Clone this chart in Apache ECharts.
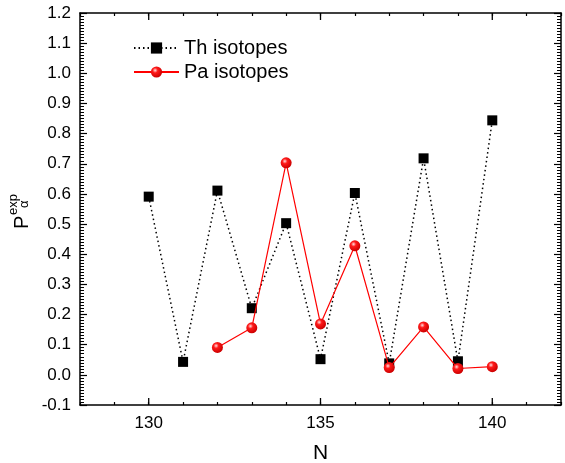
<!DOCTYPE html>
<html>
<head>
<meta charset="utf-8">
<script src="https://cdn.jsdelivr.net/npm/echarts@6/dist/echarts.min.js"></script>
<style>
html,body{margin:0;padding:0;background:#fff;}
#c{width:565px;height:463px;}
</style>
</head>
<body>
<div id="c"></div>
<script>
// ---- data ----
const nTh = [130, 131, 132, 133, 134, 135, 136, 137, 138, 139, 140];
const thValues = [0.591, 0.043, 0.611, 0.221, 0.503, 0.052, 0.603, 0.038, 0.718, 0.045, 0.844];
const nPa = [132, 133, 134, 135, 136, 137, 138, 139, 140];
const paValues = [0.091, 0.156, 0.703, 0.169, 0.428, 0.024, 0.159, 0.021, 0.027];
const xMajorTicks = [130, 135, 140];
const yRange = [-0.1, 1.2];
const xRange = [128, 142];
const seriesNames = ['Th isotopes', 'Pa isotopes'];

const FONT = "'Liberation Sans', Arial, sans-serif";
const chart = echarts.init(document.getElementById('c'));

const thData = nTh.map((n, i) => [n, thValues[i]]);
const paData = nPa.map((n, i) => [n, paValues[i]]);

function axisLine() { return {show: true, onZero: false, lineStyle: {color: '#000', width: 1.5}}; }
function xAx(pos, labels) {
  return {
    type: 'value', position: pos, min: xRange[0], max: xRange[1], interval: 1,
    axisLine: axisLine(),
    axisTick: {show: true, inside: true, length: 3, lineStyle: {color: '#000', width: 1.2}},
    axisLabel: labels ? {
      show: true, fontSize: 17, color: '#000', fontFamily: FONT, margin: 10,
      formatter: v => (xMajorTicks.indexOf(v) >= 0 ? String(v) : '')
    } : {show: false},
    splitLine: {show: false},
    name: labels ? 'N' : '', nameLocation: 'middle', nameGap: 38,
    nameTextStyle: {fontSize: 21, color: '#000', fontFamily: FONT}
  };
}
function yAx(pos, labels) {
  return {
    type: 'value', position: pos, min: yRange[0], max: yRange[1], interval: 0.1,
    axisLine: axisLine(),
    axisTick: {show: true, inside: true, length: 7, lineStyle: {color: '#000', width: 1.2}},
    minorTick: {show: true, splitNumber: 10, length: 4, lineStyle: {color: '#000', width: 1}},
    axisLabel: labels ? {
      show: true, fontSize: 17, color: '#000', fontFamily: FONT, margin: 9,
      formatter: v => v.toFixed(1)
    } : {show: false},
    splitLine: {show: false}
  };
}

const sphere = {
  type: 'radial', x: 0.38, y: 0.35, r: 0.65,
  colorStops: [
    {offset: 0, color: '#ffe0e0'},
    {offset: 0.35, color: '#ff1a1a'},
    {offset: 1, color: '#cc0000'}
  ]
};

const yLabel = {
  type: 'group', x: 32, y: 229, rotation: Math.PI / 2,
  children: [
    {type: 'text', x: 0, y: 0, style: {text: 'P', font: '20px ' + FONT, fill: '#000', verticalAlign: 'bottom'}},
    {type: 'text', x: 14, y: -12, style: {text: 'exp', font: '13px ' + FONT, fill: '#000', verticalAlign: 'bottom'}},
    {type: 'text', x: 21, y: -8, style: {text: 'α', font: '13px ' + FONT, fill: '#000', verticalAlign: 'middle'}}
  ]
};

chart.setOption({
  animation: false,
  backgroundColor: '#fff',
  grid: {left: 80, top: 13, right: 4, bottom: 58, containLabel: false, outerBoundsMode: 'none'},
  xAxis: [xAx('bottom', true), xAx('top', false)],
  yAxis: [yAx('left', true), yAx('right', false)],
  legend: {
    orient: 'vertical', left: 133, top: 38, itemWidth: 45, itemHeight: 14, itemGap: 4,
    padding: 0,
    textStyle: {fontSize: 20, color: '#000', fontFamily: FONT},
    data: seriesNames
  },
  graphic: [yLabel],
  series: [
    {
      name: seriesNames[0], type: 'line', xAxisIndex: 0, yAxisIndex: 0,
      data: thData, symbol: 'rect', symbolSize: 10,
      itemStyle: {color: '#000'},
      lineStyle: {color: '#000', width: 1.5, type: [1.5, 3]},
      z: 2
    },
    {
      name: seriesNames[1], type: 'line', xAxisIndex: 0, yAxisIndex: 0,
      data: paData, symbol: 'circle', symbolSize: 11,
      itemStyle: {color: sphere, borderWidth: 0},
      lineStyle: {color: '#ff0000', width: 1.2},
      z: 3
    }
  ]
});

// major (longer) x ticks at 130/135/140, positioned through the axis scale
const yBottom = chart.convertToPixel({yAxisIndex: 0}, yRange[0]);
const yTop = chart.convertToPixel({yAxisIndex: 0}, yRange[1]);
const majorTicks = [];
xMajorTicks.forEach(v => {
  const px = chart.convertToPixel({xAxisIndex: 0}, v);
  majorTicks.push({type: 'line', shape: {x1: px, y1: yBottom, x2: px, y2: yBottom - 7}, style: {stroke: '#000', lineWidth: 1.3}, z: 10});
  majorTicks.push({type: 'line', shape: {x1: px, y1: yTop, x2: px, y2: yTop + 7}, style: {stroke: '#000', lineWidth: 1.3}, z: 10});
});
chart.setOption({graphic: [yLabel].concat(majorTicks)}, {replaceMerge: ['graphic']});
</script>
</body>
</html>
